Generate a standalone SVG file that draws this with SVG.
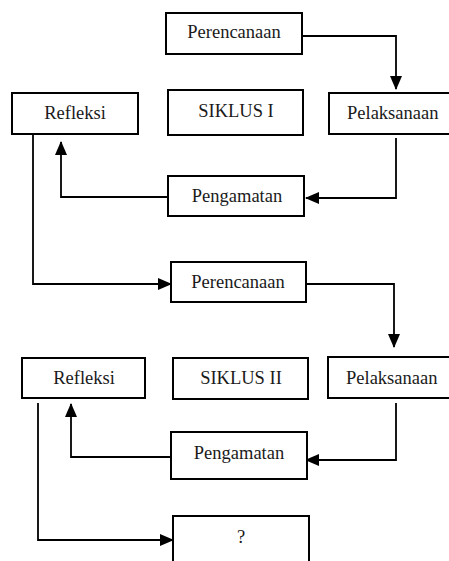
<svg xmlns="http://www.w3.org/2000/svg" width="449" height="561" viewBox="0 0 449 561">
<style>
.box{fill:#fff;stroke:#000;stroke-width:2}
.t{font-family:'Liberation Serif','DejaVu Serif',serif;font-size:18.5px;fill:#1a1a1a;text-anchor:middle}
.c{fill:none;stroke:#000;stroke-width:1.8}
</style>
<defs>
<marker id="ah" markerUnits="userSpaceOnUse" markerWidth="14" markerHeight="12" viewBox="0 0 14 12" refX="13" refY="6" orient="auto">
<path d="M0,0 L14,6 L0,12 Z" fill="#000"/>
</marker>
</defs>
<g id="connectors">
<path class="c" d="M302,36 H396 V89" marker-end="url(#ah)"/>
<path class="c" d="M396,138 V198 H306" marker-end="url(#ah)"/>
<path class="c" d="M168,197 H61 V142" marker-end="url(#ah)"/>
<path class="c" d="M33,134 V284 H171" marker-end="url(#ah)"/>
<path class="c" d="M306,284 H394 V347" marker-end="url(#ah)"/>
<path class="c" d="M396,403 V460 H306" marker-end="url(#ah)"/>
<path class="c" d="M171,457 H71 V404" marker-end="url(#ah)"/>
<path class="c" d="M38,403 V540 H173" marker-end="url(#ah)"/>
</g>
<g id="perencanaan1"><rect class="box" x="166" y="13" width="136" height="41"/><text class="t" x="234" y="38">Perencanaan</text></g>
<g id="siklus1"><rect class="box" x="168" y="90" width="135" height="45"/><text class="t" x="236" y="117">SIKLUS I</text></g>
<g id="pelaksanaan1"><rect class="box" x="329" y="93" width="125" height="41"/><text class="t" x="347" y="119" style="text-anchor:start">Pelaksanaan</text></g>
<g id="refleksi1"><rect class="box" x="12" y="93" width="126" height="41"/><text class="t" x="75" y="119">Refleksi</text></g>
<g id="pengamatan1"><rect class="box" x="168" y="176" width="136" height="40"/><text class="t" x="237" y="202">Pengamatan</text></g>
<g id="perencanaan2"><rect class="box" x="171" y="262" width="135" height="40"/><text class="t" x="238" y="288">Perencanaan</text></g>
<g id="refleksi2"><rect class="box" x="22" y="358" width="123" height="40"/><text class="t" x="84" y="384">Refleksi</text></g>
<g id="siklus2"><rect class="box" x="173" y="358" width="135" height="41"/><text class="t" x="241" y="384">SIKLUS II</text></g>
<g id="pelaksanaan2"><rect class="box" x="328" y="357" width="126" height="41"/><text class="t" x="346" y="384" style="text-anchor:start">Pelaksanaan</text></g>
<g id="pengamatan2"><rect class="box" x="171" y="432" width="136" height="47"/><text class="t" x="239" y="459">Pengamatan</text></g>
<g id="unknown"><rect class="box" x="173" y="516" width="136" height="60"/><text class="t" x="241" y="543">?</text></g>
</svg>
